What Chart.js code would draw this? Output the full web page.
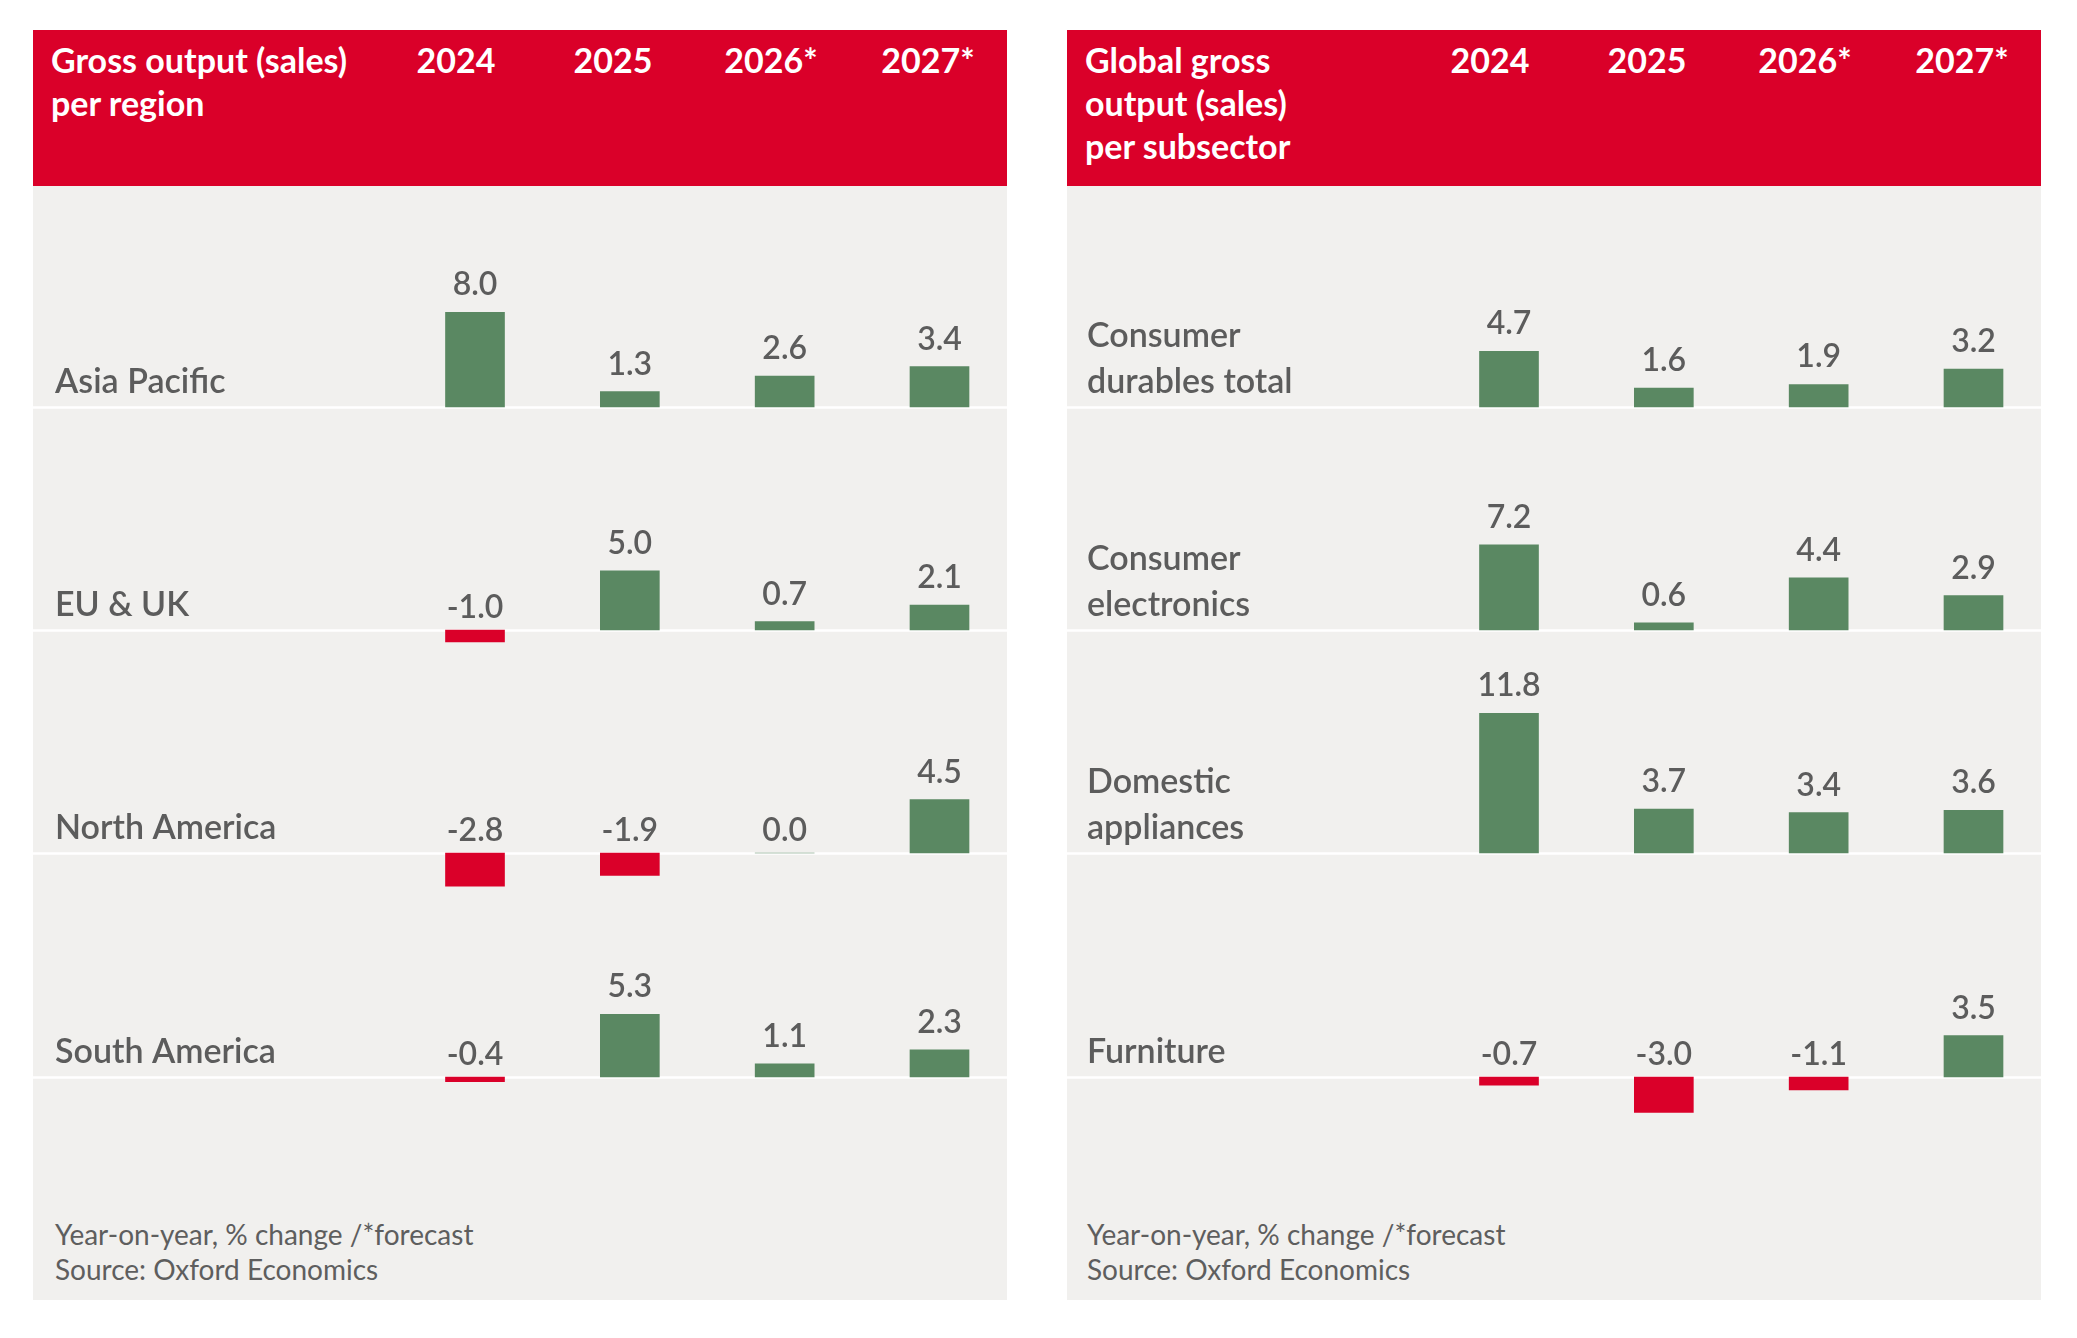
<!DOCTYPE html>
<html><head><meta charset="utf-8">
<script src="https://cdn.jsdelivr.net/npm/chart.js@4.4.1/dist/chart.umd.min.js"></script>
<style>
html,body{margin:0;padding:0;background:#fff;}
body{width:2077px;height:1338px;position:relative;overflow:hidden;font-family:Lato,'Open Sans',sans-serif;}
.panel{position:absolute;top:30px;width:974px;height:1270px;background:#F1F0EE;}
.header{position:absolute;left:0;top:0;width:100%;height:156px;background:#DA0029;}
.title{position:absolute;left:18px;top:8px;color:#fff;font-weight:700;font-size:34px;line-height:43px;white-space:pre;}
.year{position:absolute;top:8px;color:#fff;font-weight:700;font-size:34px;line-height:43px;transform:translateX(-50%);white-space:nowrap;}
.footer{position:absolute;top:1187px;color:#5e5e5e;font-size:28px;line-height:35px;white-space:pre;}
canvas{position:absolute;left:0;}
</style>
</head><body>
<script>
// ---- data ----
const years = ['2024', '2025', '2026*', '2027*'];

const regionTitle = ['Gross output (sales)', 'per region'];
const regionNames = [['Asia Pacific'], ['EU & UK'], ['North America'], ['South America']];
const asiaPacific = [8.0, 1.3, 2.6, 3.4];
const euUk = [-1.0, 5.0, 0.7, 2.1];
const northAmerica = [-2.8, -1.9, 0.0, 4.5];
const southAmerica = [-0.4, 5.3, 1.1, 2.3];

const subsectorTitle = ['Global gross', 'output (sales)', 'per subsector'];
const subsectorNames = [['Consumer', 'durables total'], ['Consumer', 'electronics'], ['Domestic', 'appliances'], ['Furniture']];
const consumerDurables = [4.7, 1.6, 1.9, 3.2];
const consumerElectronics = [7.2, 0.6, 4.4, 2.9];
const domesticAppliances = [11.8, 3.7, 3.4, 3.6];
const furniture = [-0.7, -3.0, -1.1, 3.5];

const footerLines = ['Year-on-year, % change /*forecast', 'Source: Oxford Economics'];

// ---- style ----
const RED = '#DA0029', GREEN = '#5A8862', GREY_TEXT = '#5C5C5C';
const PANEL_W = 974, PANEL_TOP = 30;
const ROW_BASELINES = [407, 630.2, 853.4, 1076.6];
const CANVAS_H = 296, Y_MIN = -6, Y_MAX = 19;
const YEAR_X = [423, 580, 738, 895];
const BAR_LEFT = 442, BAR_RIGHT = 906.5;

const rowDecor = {
  id: 'rowDecor',
  beforeDatasetsDraw(chart, args, opts) {
    const ctx = chart.ctx, y0 = chart.scales.y.getPixelForValue(0);
    ctx.save();
    ctx.strokeStyle = '#FFFFFF';
    ctx.lineWidth = 2.5;
    ctx.beginPath();
    ctx.moveTo(0, y0 + 0.5);
    ctx.lineTo(chart.width, y0 + 0.5);
    ctx.stroke();
    ctx.restore();
  },
  afterDatasetsDraw(chart, args, opts) {
    const ctx = chart.ctx, y0 = chart.scales.y.getPixelForValue(0);
    const meta = chart.getDatasetMeta(0);
    const vals = chart.data.datasets[0].data;
    ctx.save();
    ctx.fillStyle = GREY_TEXT;
    ctx.textAlign = 'center';
    ctx.textBaseline = 'alphabetic';
    ctx.font = '600 32px Lato';
    meta.data.forEach((el, i) => {
      const v = vals[i];
      const y = v > 0 ? el.y - 17 : y0 - 12;
      ctx.fillText(v.toFixed(1), el.x, y);
    });
    ctx.textAlign = 'left';
    ctx.font = '600 34px Lato';
    const lines = opts.label || [];
    lines.forEach((ln, k) => {
      const y = y0 - 14 - (lines.length - 1 - k) * 46;
      ctx.fillText(ln, opts.labelX, y);
    });
    ctx.restore();
  }
};

function buildPanel(left, title, names, series, labelX) {
  const panel = document.createElement('div');
  panel.className = 'panel';
  panel.style.left = left + 'px';
  document.body.appendChild(panel);

  const header = document.createElement('div');
  header.className = 'header';
  panel.appendChild(header);
  const t = document.createElement('div');
  t.className = 'title';
  t.textContent = title.join('\n');
  header.appendChild(t);
  years.forEach((yr, i) => {
    const d = document.createElement('div');
    d.className = 'year';
    d.style.left = YEAR_X[i] + 'px';
    d.textContent = yr;
    header.appendChild(d);
  });

  const f = document.createElement('div');
  f.className = 'footer';
  f.style.left = labelX + 'px';
  f.textContent = footerLines.join('\n');
  panel.appendChild(f);

  const pxPerUnit = CANVAS_H / (Y_MAX - Y_MIN);
  series.forEach((vals, r) => {
    const c = document.createElement('canvas');
    c.width = PANEL_W; c.height = CANVAS_H;
    c.style.width = PANEL_W + 'px'; c.style.height = CANVAS_H + 'px';
    c.style.top = (ROW_BASELINES[r] - Y_MAX * pxPerUnit - PANEL_TOP) + 'px';
    panel.appendChild(c);
    new Chart(c, {
      type: 'bar',
      data: {
        labels: years,
        datasets: [{
          data: vals,
          backgroundColor: vals.map(v => v < 0 ? RED : GREEN),
          borderWidth: 0,
          barThickness: 59,
          clip: false
        }]
      },
      options: {
        responsive: false,
        animation: false,
        devicePixelRatio: 1,
        layout: { padding: { left: BAR_LEFT, right: PANEL_W - BAR_RIGHT, top: 0, bottom: 0 } },
        plugins: {
          legend: { display: false },
          tooltip: { enabled: false },
          rowDecor: { label: names[r], labelX: labelX }
        },
        scales: {
          x: { type: 'category', offset: false, display: false, grid: { display: false } },
          y: { min: Y_MIN, max: Y_MAX, display: false, grid: { display: false } }
        }
      },
      plugins: [rowDecor]
    });
  });
}

buildPanel(33, regionTitle, regionNames, [asiaPacific, euUk, northAmerica, southAmerica], 22);
buildPanel(1067, subsectorTitle, subsectorNames, [consumerDurables, consumerElectronics, domesticAppliances, furniture], 20);
</script>
</body></html>
